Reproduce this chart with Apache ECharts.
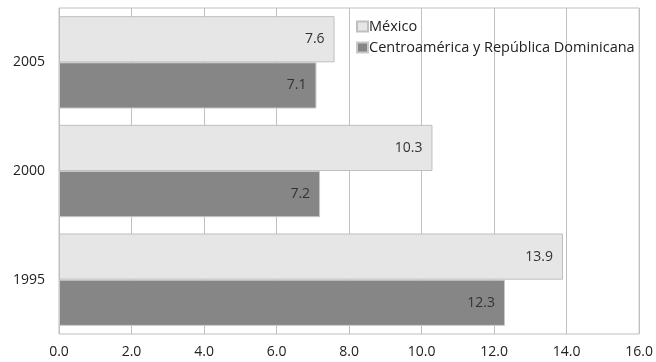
<!DOCTYPE html>
<html>
<head>
<meta charset="utf-8">
<script src="https://cdn.jsdelivr.net/npm/echarts@6/dist/echarts.min.js"></script>
<style>
  html, body { margin: 0; padding: 0; background: #fff; }
  #chart { width: 656px; height: 362px; }
</style>
</head>
<body>
<div id="chart"></div>
<script>
// Years on the category axis (bottom to top)
const years = ['1995', '2000', '2005'];
// Values per region, same order as years
const mexico = [13.9, 10.3, 7.6];
const centroamerica = [12.3, 7.2, 7.1];
// Value axis ticks
const xMin = 0, xMax = 16, xStep = 2;

const FONT = '"Open Sans", Lato, sans-serif';
const chart = echarts.init(document.getElementById('chart'), null, { renderer: 'canvas' });

const labelStyle = {
  show: true,
  position: 'insideRight',
  distance: 10,
  color: '#333',
  fontFamily: FONT,
  fontSize: 14,
  formatter: p => p.value.toFixed(1)
};

chart.setOption({
  animation: false,
  backgroundColor: '#fff',
  grid: { left: 59, right: 14, top: 8, bottom: 28, show: true, borderColor: '#bfbfbf', borderWidth: 1 },
  legend: {
    orient: 'vertical',
    left: 351,
    top: 14,
    icon: 'rect',
    itemWidth: 11,
    itemHeight: 10,
    itemGap: 6,
    data: ['México', 'Centroamérica y República Dominicana'],
    textStyle: { fontFamily: FONT, fontSize: 14.5, color: '#222', padding: [0, 0, 0, -4] }
  },
  xAxis: {
    type: 'value',
    min: xMin, max: xMax, interval: xStep,
    axisLine: { show: false },
    axisTick: { show: false },
    axisLabel: { formatter: v => v.toFixed(1), fontFamily: FONT, fontSize: 14, color: '#222', margin: 11 },
    splitLine: { show: true, lineStyle: { color: '#bfbfbf', width: 1 } }
  },
  yAxis: {
    type: 'category',
    data: years,
    axisLine: { show: false },
    axisTick: { show: false },
    axisLabel: { fontFamily: FONT, fontSize: 14, color: '#222', margin: 14 }
  },
  series: [
    {
      name: 'México',
      type: 'bar',
      data: mexico,
      barGap: '0%',
      barCategoryGap: '15%',
      itemStyle: { color: '#e6e6e6', borderColor: '#bfbfbf', borderWidth: 1 },
      label: labelStyle
    },
    {
      name: 'Centroamérica y República Dominicana',
      type: 'bar',
      data: centroamerica,
      barGap: '0%',
      barCategoryGap: '15%',
      itemStyle: { color: '#868686', borderColor: '#c8c8c8', borderWidth: 1 },
      label: labelStyle
    }
  ]
});
</script>
</body>
</html>
